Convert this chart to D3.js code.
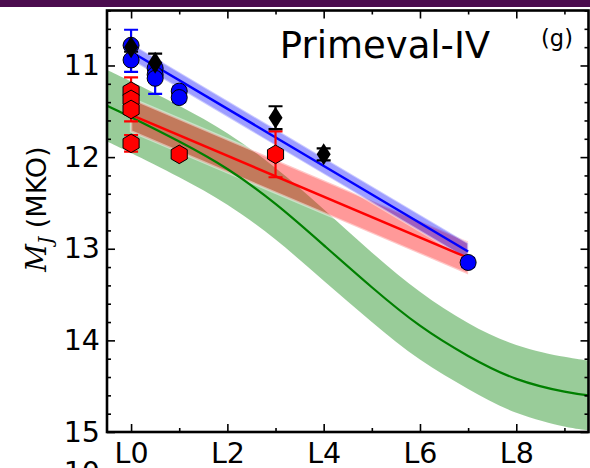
<!DOCTYPE html>
<html>
<head>
<meta charset="utf-8">
<script src="https://cdn.jsdelivr.net/npm/d3@7"></script>
<style>
  body { margin: 0; background: #fff; }
  svg { display: block; font-family: "DejaVu Sans", sans-serif; }
</style>
</head>
<body>
<div id="chart"></div>
<script>
// spectral type as a number: L0 = 0, L1 = 1, ...
var fieldSpT = [0, 0, 0.5, 0.5, 0.5, 1, 1, 7];
var fieldMJ  = [10.78, 10.94, 11.03, 11.10, 11.14, 11.28, 11.35, 13.15];
var fieldErr = [0.17, 0.13, 0.05, 0.05, 0.17, 0.05, 0.05, 0.05];

var youngSpT = [0, 0.5, 3, 4];
var youngMJ  = [10.80, 10.97, 11.57, 11.97];
var youngErr = [0.05, 0.10, 0.125, 0.065];

var lowgSpT = [0, 0, 0, 0, 1, 3];
var lowgMJ  = [11.28, 11.37, 11.48, 11.85, 11.97, 11.97];
var lowgErr = [0.05, 0.24, 0.05, 0.09, 0.05, 0.25];

// linear fits with their scatter
var fitSpT = [0, 7];
var fieldFit = [10.85, 13.03];
var fieldFitRms = [0.09, 0.09];
var lowgFit = [11.54, 13.10];
var lowgFitRms = [0.18, 0.18];

// field polynomial relation
var polySpT = [-0.5, 0, 1, 2, 3, 4, 5, 6, 7, 8, 9, 9.5];
var polyMJ  = [11.44, 11.565, 11.83, 12.13, 12.51, 12.96, 13.42, 13.84, 14.17, 14.42, 14.56, 14.60];
var polyRms = [0.39, 0.39, 0.39, 0.39, 0.39, 0.39, 0.38, 0.37, 0.36, 0.37, 0.38, 0.38];

var xMajor = [0, 2, 4, 6, 8];
var xMinor = [1, 3, 5, 7, 9];
var xTickLabels = ["L0", "L2", "L4", "L6", "L8"];
var yMajor = [11, 12, 13, 14, 15];
var yMinor = [10.4, 10.6, 10.8, 11.2, 11.4, 11.6, 11.8, 12.2, 12.4, 12.6, 12.8,
              13.2, 13.4, 13.6, 13.8, 14.2, 14.4, 14.6, 14.8];

var width = 590, height = 468;
var pLeft = 107, pRight = 588.5, pTop = 10.5, pBottom = 432;

var x = d3.scaleLinear().domain([-0.5, 9.5]).range([pLeft, pRight]);
var y = d3.scaleLinear().domain([10.4, 15]).range([pTop, pBottom]);

var svg = d3.select("#chart").append("svg")
  .attr("width", width)
  .attr("height", height);

// strip of the slide above the figure
svg.append("rect")
  .attr("x", 0).attr("y", 0)
  .attr("width", width).attr("height", 7)
  .attr("fill", "#4b0c4e");

svg.append("clipPath").attr("id", "plot-clip")
  .append("rect")
  .attr("x", pLeft).attr("y", pTop)
  .attr("width", pRight - pLeft).attr("height", pBottom - pTop);

var plot = svg.append("g").attr("clip-path", "url(#plot-clip)");

function zip(s, m, e) {
  return s.map(function(d, i) { return {s: d, m: m[i], e: e[i]}; });
}

var band = d3.area()
  .x(function(d) { return x(d.s); })
  .y0(function(d) { return y(d.m - d.e); })
  .y1(function(d) { return y(d.m + d.e); });

var line = d3.line()
  .x(function(d) { return x(d.s); })
  .y(function(d) { return y(d.m); });

var poly = zip(polySpT, polyMJ, polyRms);
var fieldLine = zip(fitSpT, fieldFit, fieldFitRms);
var lowgLine = zip(fitSpT, lowgFit, lowgFitRms);

plot.append("path")
  .attr("d", band.curve(d3.curveNatural)(poly))
  .attr("fill", "#008000").attr("fill-opacity", 0.4);

plot.append("path")
  .attr("d", band.curve(d3.curveLinear)(lowgLine))
  .attr("fill", "#ff0000").attr("fill-opacity", 0.4)
  .attr("stroke", "#fff").attr("stroke-opacity", 0.45).attr("stroke-width", 2.5);

plot.append("path")
  .attr("d", band.curve(d3.curveLinear)(fieldLine))
  .attr("fill", "#0000ff").attr("fill-opacity", 0.38)
  .attr("stroke", "#fff").attr("stroke-opacity", 0.45).attr("stroke-width", 2);

plot.append("path")
  .attr("d", line.curve(d3.curveNatural)(poly))
  .attr("fill", "none").attr("stroke", "#008000").attr("stroke-width", 2.2);

plot.append("path")
  .attr("d", line.curve(d3.curveLinear)(lowgLine))
  .attr("fill", "none").attr("stroke", "#ff0000").attr("stroke-width", 2.5);

plot.append("path")
  .attr("d", line.curve(d3.curveLinear)(fieldLine))
  .attr("fill", "none").attr("stroke", "#0000ff").attr("stroke-width", 2.5);

// error bars, then markers on top
function errorBars(data, color) {
  var g = plot.append("g").attr("stroke", color).attr("stroke-width", 2.2);
  data.forEach(function(d) {
    var cx = x(d.s);
    g.append("line")
      .attr("x1", cx).attr("x2", cx)
      .attr("y1", y(d.m - d.e)).attr("y2", y(d.m + d.e));
    [d.m - d.e, d.m + d.e].forEach(function(v) {
      g.append("line")
        .attr("x1", cx - 7).attr("x2", cx + 7)
        .attr("y1", y(v)).attr("y2", y(v));
    });
  });
}

var field = zip(fieldSpT, fieldMJ, fieldErr);
var young = zip(youngSpT, youngMJ, youngErr);
var lowg = zip(lowgSpT, lowgMJ, lowgErr);

errorBars(lowg, "#ff0000");
errorBars(field, "#0000ff");
errorBars(young, "#000");

function hexagon(r) {
  var pts = d3.range(6).map(function(k) {
    var a = -Math.PI / 2 + k * Math.PI / 3;
    return [r * Math.cos(a), r * Math.sin(a)];
  });
  return "M" + pts.join("L") + "Z";
}

plot.selectAll(".lowg")
  .data(lowg).enter()
  .append("path")
  .attr("class", "lowg")
  .attr("d", hexagon(9.3))
  .attr("transform", function(d) { return "translate(" + x(d.s) + "," + y(d.m) + ")"; })
  .attr("fill", "#ff0000").attr("stroke", "#000").attr("stroke-width", 1);

plot.selectAll(".field")
  .data(field).enter()
  .append("circle")
  .attr("class", "field")
  .attr("r", 8)
  .attr("cx", function(d) { return x(d.s); })
  .attr("cy", function(d) { return y(d.m); })
  .attr("fill", "#0000ff").attr("stroke", "#000").attr("stroke-width", 1);

plot.selectAll(".young")
  .data(young).enter()
  .append("path")
  .attr("class", "young")
  .attr("d", "M0,-11L7,0L0,11L-7,0Z")
  .attr("transform", function(d) { return "translate(" + x(d.s) + "," + y(d.m) + ")"; })
  .attr("fill", "#000");

// axes, ticks pointing inward
function ticks(axis, tx, ty, values, size, labels) {
  var g = svg.append("g")
    .attr("transform", "translate(" + tx + "," + ty + ")")
    .call(axis.tickValues(values).tickSize(-size)
      .tickFormat(labels ? function(d, i) { return labels[i]; } : ""));
  g.select(".domain").remove();
  g.attr("font-size", null).attr("font-family", null);
  g.selectAll(".tick line").attr("stroke", "#000").attr("stroke-width", 1.6);
  g.selectAll(".tick text")
    .attr("fill", "#000")
    .style("font-family", "DejaVu Sans")
    .style("font-size", "28.5px");
  return g;
}

ticks(d3.axisBottom(x).tickPadding(11), 0, pBottom, xMajor, 8, xTickLabels);
ticks(d3.axisBottom(x), 0, pBottom, xMinor, 4);
ticks(d3.axisTop(x), 0, pTop, xMajor, 8);
ticks(d3.axisTop(x), 0, pTop, xMinor, 4);
ticks(d3.axisLeft(y).tickPadding(7), pLeft, 0, yMajor, 8, yMajor.map(String));
ticks(d3.axisLeft(y), pLeft, 0, yMinor, 4);
ticks(d3.axisRight(y), pRight, 0, yMajor, 8);
ticks(d3.axisRight(y), pRight, 0, yMinor, 4);

svg.append("rect")
  .attr("x", pLeft).attr("y", pTop)
  .attr("width", pRight - pLeft).attr("height", pBottom - pTop)
  .attr("fill", "none").attr("stroke", "#000").attr("stroke-width", 2.6);

// y label
var ylab = svg.append("text")
  .attr("transform", "translate(46,209) rotate(-90)")
  .attr("text-anchor", "middle")
  .style("font-size", "27px");
ylab.append("tspan")
  .style("font-family", "DejaVu Serif").style("font-style", "italic")
  .text("M");
ylab.append("tspan")
  .style("font-family", "DejaVu Serif").style("font-style", "italic")
  .style("font-size", "18px").attr("dy", 6)
  .text("J");
ylab.append("tspan")
  .attr("dy", -6)
  .text(" (MKO)");

svg.append("text")
  .attr("x", 385).attr("y", 58)
  .attr("text-anchor", "middle")
  .style("font-size", "37px")
  .text("Primeval-IV");

svg.append("text")
  .attr("x", 557).attr("y", 46)
  .attr("text-anchor", "middle")
  .style("font-size", "22.5px")
  .text("(g)");

// tick label of the panel below, cut by the frame
svg.append("text")
  .attr("x", 100).attr("y", 482)
  .attr("text-anchor", "end")
  .style("font-size", "28.5px")
  .text("10");
</script>
</body>
</html>
